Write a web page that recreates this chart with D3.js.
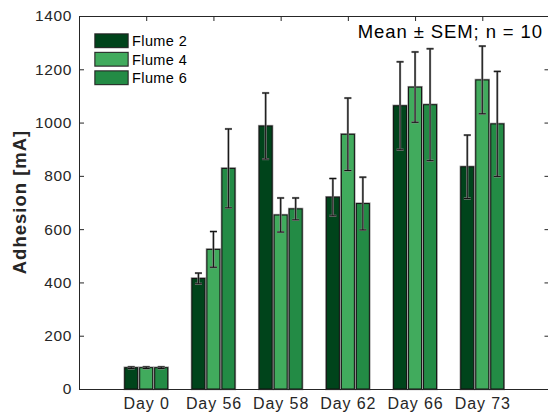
<!DOCTYPE html>
<html><head><meta charset="utf-8">
<script src="https://cdn.jsdelivr.net/npm/d3@7"></script>
<style>body{margin:0;background:#fff}svg{display:block;font-family:"Liberation Sans",Arial,sans-serif}</style>
</head><body><svg id="c" width="548" height="414"></svg>
<script>
const categories = ["Day 0","Day 56","Day 58","Day 62","Day 66","Day 73"];
const seriesNames = ["Flume 2","Flume 4","Flume 6"];
const flume2 = [80, 415, 987, 720, 1063, 834];
const flume4 = [80, 524, 653, 956, 1133, 1160];
const flume6 = [80, 828, 676, 696, 1067, 995];
const sem2 = [3, 20, 124, 70, 165, 119];
const sem4 = [3, 67, 64, 136, 132, 127];
const sem6 = [3, 148, 41, 99, 210, 197];
const yTicks = [0,200,400,600,800,1000,1200,1400];
const colors = ["#00441b","#41ab5d","#238b45"];
const values = [flume2, flume4, flume6];
const sems = [sem2, sem4, sem6];

const svg = d3.select("#c");
const L = 79, R = 549.5, T = 16, B = 389;
const x = d3.scaleLinear().domain([0,7]).range([L,R]);
const y = d3.scaleLinear().domain([0,1400]).range([B,T]);
const bw = 13, pitch = 15;

const g = svg.append("g");
values.forEach((vals, s) => {
  vals.forEach((v, i) => {
    const cx = x(i+1) + (s-1)*pitch;
    g.append("rect").attr("x", cx-bw/2).attr("y", y(v)).attr("width", bw).attr("height", y(0)-y(v))
      .attr("fill", colors[s]).attr("stroke", "#9a9a9a").attr("stroke-width", 2.4);
    g.append("rect").attr("x", cx-bw/2).attr("y", y(v)).attr("width", bw).attr("height", y(0)-y(v))
      .attr("fill", colors[s]).attr("stroke", "#111").attr("stroke-width", 1);
  });
});
values.forEach((vals, s) => {
  vals.forEach((v, i) => {
    const cx = x(i+1) + (s-1)*pitch;
    const e = sems[s][i];
    const eg = g.append("g");
    [["#8a8a8a",2.2],["#111",1]].forEach(([c,w]) => {
      eg.append("line").attr("x1",cx).attr("x2",cx).attr("y1",y(v+e)).attr("y2",y(v-e)).attr("stroke",c).attr("stroke-width",w);
      eg.append("line").attr("x1",cx-3.5).attr("x2",cx+3.5).attr("y1",y(v+e)).attr("y2",y(v+e)).attr("stroke",c).attr("stroke-width",w);
      eg.append("line").attr("x1",cx-3.5).attr("x2",cx+3.5).attr("y1",y(v-e)).attr("y2",y(v-e)).attr("stroke",c).attr("stroke-width",w);
    });
  });
});

const axStyle = sel => {
  sel.select(".domain").attr("stroke","#262626");
  sel.selectAll(".tick line").attr("stroke","#262626");
  sel.selectAll("text").attr("fill","#262626").style("font-size","15.5px").style("letter-spacing","0.6px")
    .style("font-family","'Liberation Sans',Arial,sans-serif");
};
const yAx = svg.append("g").attr("transform",`translate(${L},0)`)
  .call(d3.axisLeft(y).tickValues(yTicks).tickSizeInner(-5).tickSizeOuter(0).tickPadding(7).tickFormat(d3.format("d")));
axStyle(yAx);
const yAxR = svg.append("g").attr("transform",`translate(${R},0)`)
  .call(d3.axisRight(y).tickValues(yTicks).tickSizeInner(-5).tickSizeOuter(0).tickFormat(""));
axStyle(yAxR);
const xAx = svg.append("g").attr("transform",`translate(0,${B})`)
  .call(d3.axisBottom(x).tickValues([1,2,3,4,5,6]).tickSizeInner(-5).tickSizeOuter(0).tickPadding(9).tickFormat(d => categories[d-1]));
axStyle(xAx);
xAx.selectAll("text").style("font-size","16px").style("letter-spacing","0.9px");
xAx.selectAll(".tick line").remove();
const xAxT = svg.append("g").attr("transform",`translate(0,${T})`)
  .call(d3.axisTop(x).tickValues([1,2,3,4,5,6]).tickSizeInner(-5).tickSizeOuter(0).tickFormat(""));
axStyle(xAxT);

svg.append("text").attr("transform","translate(26,202) rotate(-90)").attr("text-anchor","middle")
  .attr("fill","#262626").style("font-size","18.5px").style("font-weight","bold").style("letter-spacing","1px").text("Adhesion [mA]");

svg.append("text").attr("x",543).attr("y",38).attr("text-anchor","end").attr("fill","#000")
  .style("font-size","18.5px").style("letter-spacing","0.9px").text("Mean \u00b1 SEM; n = 10");

seriesNames.forEach((n, s) => {
  const ly = 34 + s*18.5;
  svg.append("rect").attr("x",95).attr("y",ly).attr("width",33).attr("height",13.5)
    .attr("fill",colors[s]).attr("stroke","#777").attr("stroke-width",1.6);
  svg.append("rect").attr("x",95).attr("y",ly).attr("width",33).attr("height",13.5)
    .attr("fill",colors[s]).attr("stroke","#222").attr("stroke-width",0.8);
  svg.append("text").attr("x",132).attr("y",ly+12).attr("fill","#000").style("font-size","14.5px").style("letter-spacing","0.4px").text(n);
});
</script></body></html>
